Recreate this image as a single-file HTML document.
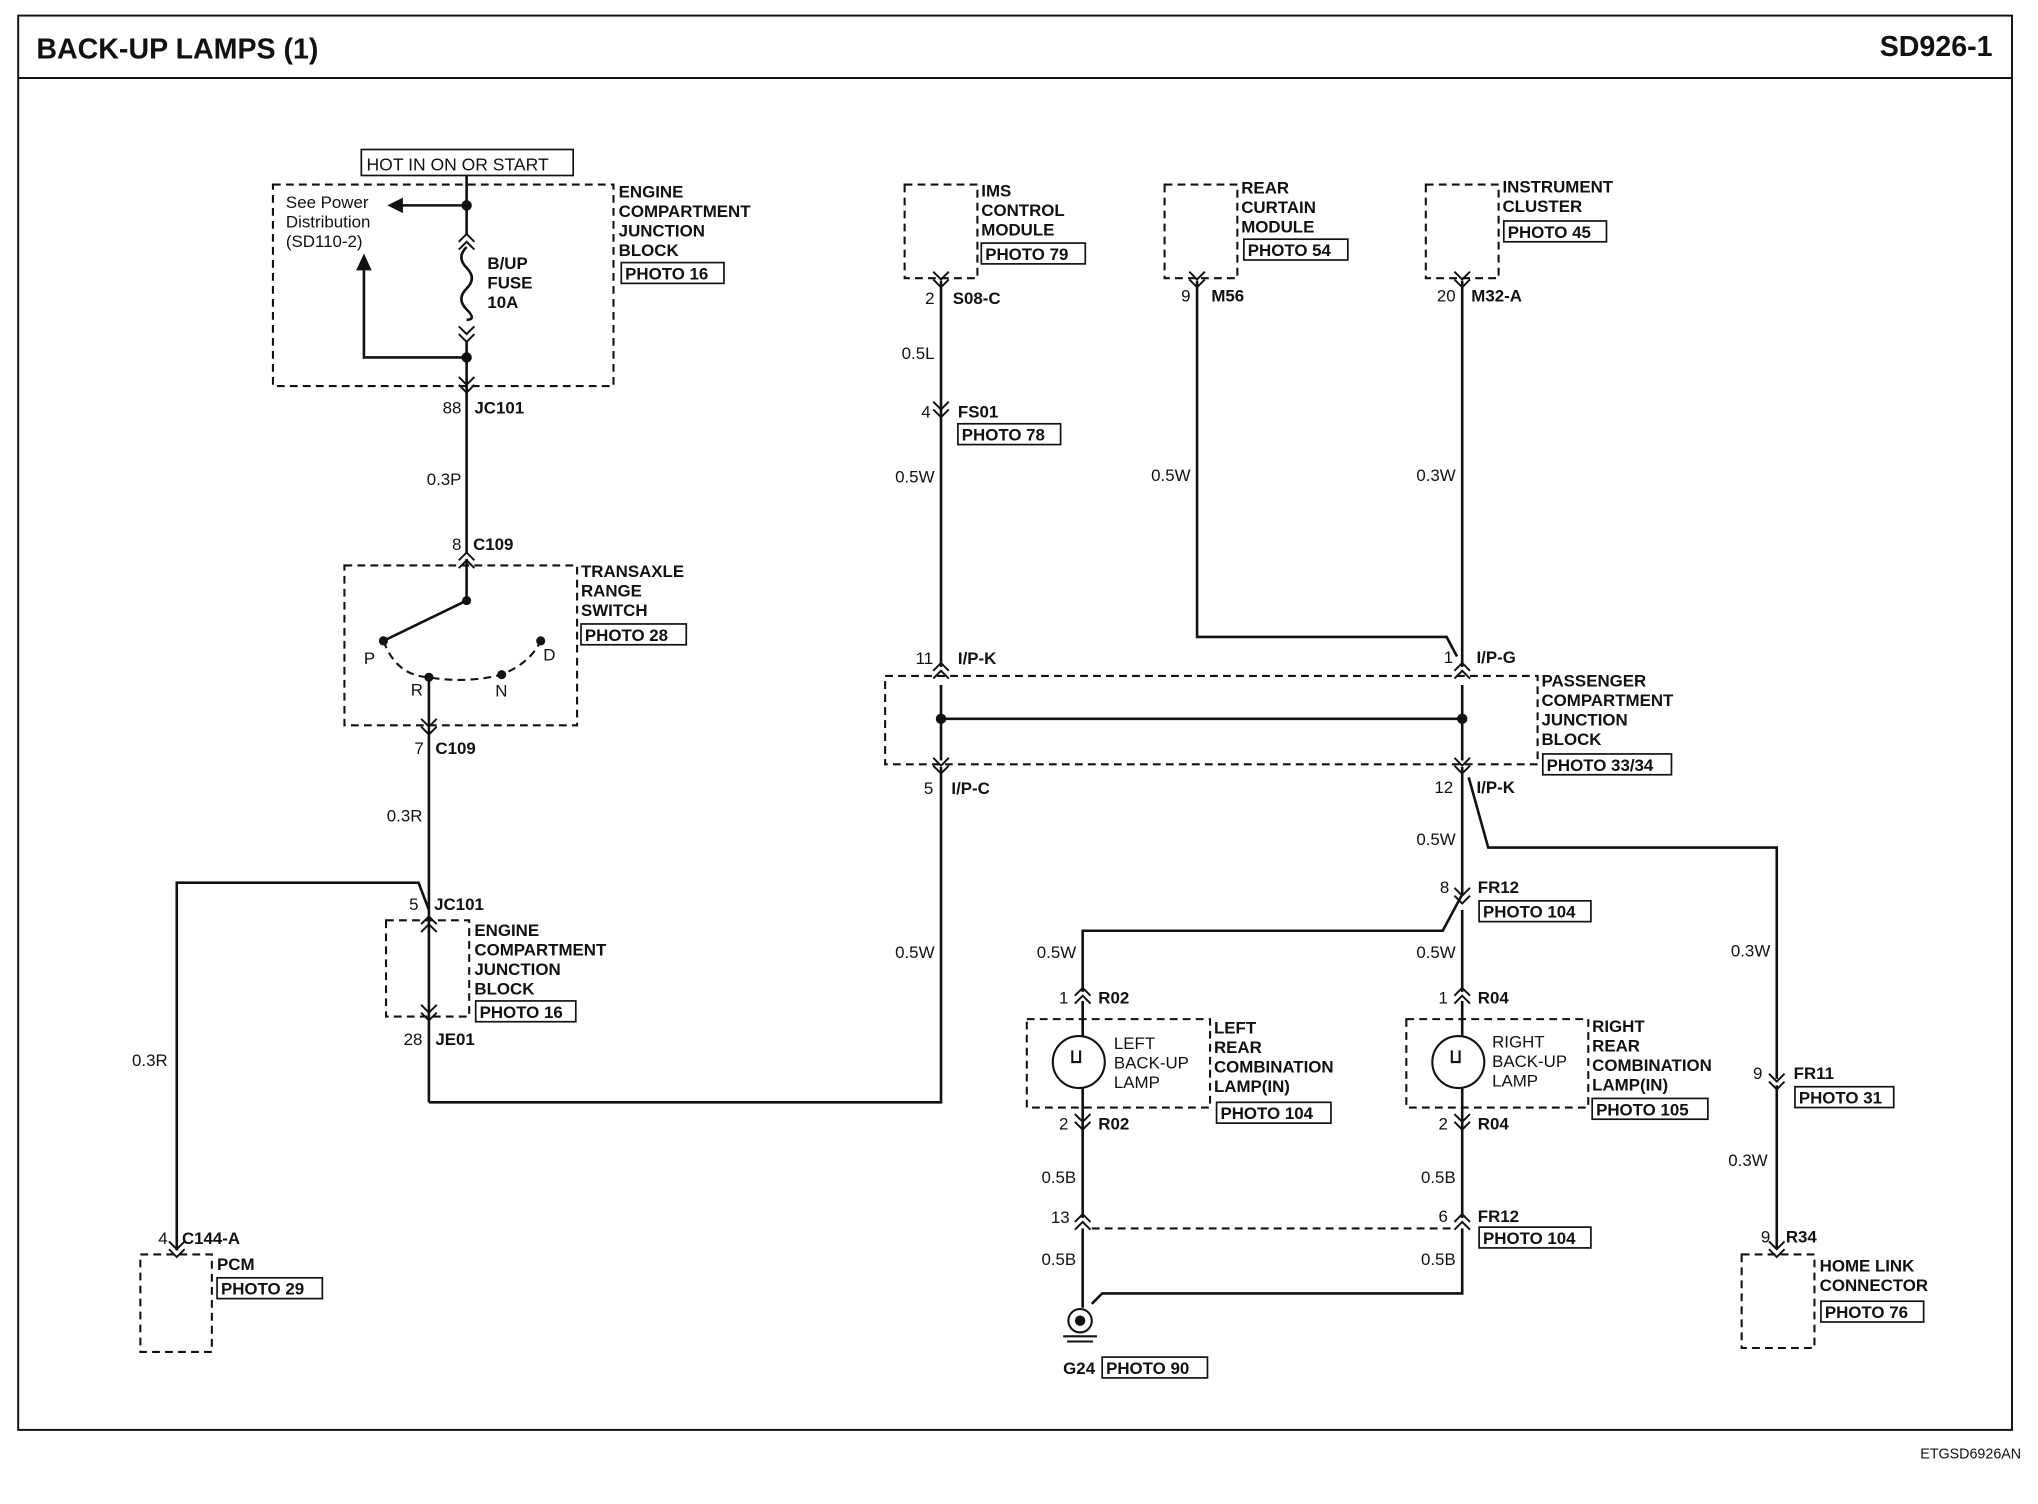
<!DOCTYPE html>
<html><head><meta charset="utf-8"><style>
html,body{margin:0;padding:0;background:#fff;}
svg{display:block;}
text{font-family:"Liberation Sans",Arial,sans-serif;font-size:13px;fill:#111;}
.b{font-weight:bold;}
.t{font-size:13.5px;}
</style></head><body>
<svg width="2038" height="1504" viewBox="0 0 1568 1157" preserveAspectRatio="none" xmlns="http://www.w3.org/2000/svg">
<defs>
<path id="cd" d="M-6,-7 L0,-1 L6,-7 M-6,-1 L0,5 L6,-1" fill="none" stroke="#111" stroke-width="1.5"/>
<path id="cu" d="M-6,7 L0,1 L6,7 M-6,1 L0,-5 L6,1" fill="none" stroke="#111" stroke-width="1.5"/>
</defs>
<rect width="1568" height="1157" fill="#fff"/>
<rect x="14" y="12" width="1534" height="1088" fill="none" stroke="#111" stroke-width="1.5"/>
<line x1="14" y1="60" x2="1548" y2="60" stroke="#111" stroke-width="1.5"/>
<text x="28" y="45" class="b" style="font-size:22px">BACK-UP LAMPS (1)</text>
<text x="1533" y="43" class="b" style="font-size:22px" text-anchor="end">SD926-1</text>
<text x="1555" y="1122" style="font-size:11px" text-anchor="end">ETGSD6926AN</text>

<g fill="none" stroke="#111" stroke-width="2">
<line x1="359" y1="135" x2="359" y2="180"/>
<path d="M359,190 q-8,8 0,16 q8,8 0,16 q-8,8 0,16 q8,8 0,8"/>
<line x1="359" y1="262" x2="359" y2="425"/>
<line x1="359" y1="158" x2="305" y2="158"/>
<path d="M359,275 H280 V205"/>
<line x1="359" y1="430" x2="359" y2="462"/>
<line x1="359" y1="462" x2="295" y2="493"/>
<line x1="330" y1="521" x2="330" y2="560"/>
<line x1="330" y1="560" x2="330" y2="848"/>
<path d="M330,848 H724 V590"/>
<path d="M136,962 V679 H322 L330,700"/>
<line x1="724" y1="216" x2="724" y2="513"/>
<line x1="724" y1="527" x2="724" y2="585"/>
<line x1="724" y1="553" x2="1125" y2="553"/>
<path d="M921,216 V490 H1113 L1121,505"/>
<line x1="1125" y1="216" x2="1125" y2="513"/>
<line x1="1125" y1="527" x2="1125" y2="585"/>
<line x1="1125" y1="590" x2="1125" y2="688"/>
<path d="M1130,598 L1145,652 H1367 V830"/>
<line x1="1367" y1="835" x2="1367" y2="960"/>
<path d="M1125,688 L1110,716 H833 V763"/>
<line x1="1125" y1="700" x2="1125" y2="763"/>
<line x1="833" y1="770" x2="833" y2="797"/>
<line x1="833" y1="837" x2="833" y2="937"/>
<line x1="833" y1="945" x2="833" y2="1006"/>
<line x1="1125" y1="770" x2="1125" y2="797"/>
<line x1="1125" y1="837" x2="1125" y2="937"/>
<path d="M840,1003 L848,995 H1125 V945"/>
</g>
<g fill="none" stroke="#111" stroke-width="1.6" stroke-dasharray="6,4">
<rect x="210" y="142" width="262" height="155"/>
<rect x="265" y="435" width="179" height="123"/>
<rect x="297" y="708" width="64" height="74"/>
<rect x="108" y="965" width="55" height="75"/>
<rect x="696" y="142" width="56" height="72"/>
<rect x="896" y="142" width="56" height="72"/>
<rect x="1097" y="142" width="56" height="72"/>
<rect x="681" y="520" width="502" height="68"/>
<rect x="790" y="784" width="141" height="68"/>
<rect x="1082" y="784" width="140" height="68"/>
<rect x="1340" y="965" width="56" height="72"/>
<path d="M295,493 Q305,520 330,521 Q358,526 386,519 Q408,510 416,493"/>
<line x1="840" y1="945" x2="1120" y2="945"/>
</g>
<g fill="#111">
<circle cx="359" cy="158" r="4"/><circle cx="359" cy="275" r="4"/>
<circle cx="359" cy="462" r="3.5"/><circle cx="295" cy="493" r="3.5"/><circle cx="330" cy="521" r="3.5"/><circle cx="386" cy="519" r="3.5"/><circle cx="416" cy="493" r="3.5"/>
<circle cx="724" cy="553" r="4"/><circle cx="1125" cy="553" r="4"/>
<path d="M298,158 L310,152 L310,164Z"/>
<path d="M280,195 L274,208 L286,208Z"/>
</g>
<use href="#cu" x="359" y="185"/><use href="#cd" x="359" y="258"/>
<use href="#cd" x="359" y="297"/><use href="#cu" x="359" y="430"/>
<use href="#cd" x="330" y="560"/><use href="#cu" x="330" y="710"/><use href="#cd" x="330" y="780"/>
<use href="#cd" x="136" y="962"/>
<use href="#cd" x="724" y="216"/><use href="#cd" x="724" y="316"/>
<use href="#cu" x="724" y="515"/><use href="#cd" x="724" y="590"/>
<use href="#cd" x="921" y="216"/><use href="#cd" x="1125" y="216"/>
<use href="#cu" x="1125" y="515"/><use href="#cd" x="1125" y="590"/>
<use href="#cd" x="1125" y="690"/>
<use href="#cu" x="833" y="765"/><use href="#cd" x="833" y="864"/><use href="#cu" x="833" y="939"/>
<use href="#cu" x="1125" y="765"/><use href="#cd" x="1125" y="864"/><use href="#cu" x="1125" y="939"/>
<use href="#cd" x="1367" y="833"/><use href="#cd" x="1367" y="962"/>
<g fill="none" stroke="#111" stroke-width="1.6">
<circle cx="830" cy="817" r="20"/><path d="M825,808 v9 h6 v-9"/>
<circle cx="1122" cy="817" r="20"/><path d="M1117,808 v9 h6 v-9"/>
<circle cx="831" cy="1016" r="9"/>
<line x1="818" y1="1028" x2="844" y2="1028"/><line x1="821" y1="1032" x2="841" y2="1032"/>
</g>
<circle cx="831" cy="1016" r="4" fill="#111"/>
<g fill="none" stroke="#111" stroke-width="1.3">
<rect x="278" y="115" width="163" height="20"/>
<rect x="478" y="202" width="79" height="16"/>
<rect x="447" y="480" width="81" height="16"/>
<rect x="366" y="770" width="77" height="16"/>
<rect x="167" y="983" width="81" height="16"/>
<rect x="755" y="187" width="80" height="16"/>
<rect x="737" y="326" width="79" height="16"/>
<rect x="957" y="184" width="80" height="16"/>
<rect x="1157" y="170" width="79" height="16"/>
<rect x="1187" y="580" width="99" height="16"/>
<rect x="1138" y="693" width="86" height="16"/>
<rect x="936" y="848" width="88" height="16"/>
<rect x="1225" y="845" width="89" height="16"/>
<rect x="1138" y="944" width="86" height="16"/>
<rect x="848" y="1044" width="81" height="16"/>
<rect x="1381" y="836" width="76" height="16"/>
<rect x="1401" y="1001" width="79" height="16"/>
</g>
<text x="282" y="131" class="t">HOT IN ON OR START</text>
<text x="220" y="160">See Power</text><text x="220" y="175">Distribution</text><text x="220" y="190">(SD110-2)</text>
<g>
<text x="375" y="207" class="b">B/UP</text><text x="375" y="222" class="b">FUSE</text><text x="375" y="237" class="b">10A</text>
<text x="476" y="152" class="b">ENGINE</text><text x="476" y="167" class="b">COMPARTMENT</text><text x="476" y="182" class="b">JUNCTION</text><text x="476" y="197" class="b">BLOCK</text>
<text x="481" y="215" class="b">PHOTO 16</text>
<text x="355" y="318" text-anchor="end">88</text><text x="365" y="318" class="b">JC101</text>
<text x="355" y="373" text-anchor="end">0.3P</text>
<text x="355" y="423" text-anchor="end">8</text><text x="364" y="423" class="b">C109</text>
<text x="447" y="444" class="b">TRANSAXLE</text><text x="447" y="459" class="b">RANGE</text><text x="447" y="474" class="b">SWITCH</text>
<text x="450" y="493" class="b">PHOTO 28</text>
<text x="280" y="511">P</text><text x="316" y="535">R</text><text x="381" y="536">N</text><text x="418" y="508">D</text>
<text x="326" y="580" text-anchor="end">7</text><text x="335" y="580" class="b">C109</text>
<text x="325" y="632" text-anchor="end">0.3R</text>
<text x="322" y="700" text-anchor="end">5</text><text x="334" y="700" class="b">JC101</text>
<text x="365" y="720" class="b">ENGINE</text><text x="365" y="735" class="b">COMPARTMENT</text><text x="365" y="750" class="b">JUNCTION</text><text x="365" y="765" class="b">BLOCK</text>
<text x="369" y="783" class="b">PHOTO 16</text>
<text x="325" y="804" text-anchor="end">28</text><text x="335" y="804" class="b">JE01</text>
<text x="129" y="820" text-anchor="end">0.3R</text>
<text x="129" y="957" text-anchor="end">4</text><text x="140" y="957" class="b">C144-A</text>
<text x="167" y="977" class="b">PCM</text><text x="170" y="996" class="b">PHOTO 29</text>

<text x="755" y="151" class="b">IMS</text><text x="755" y="166" class="b">CONTROL</text><text x="755" y="181" class="b">MODULE</text>
<text x="758" y="200" class="b">PHOTO 79</text>
<text x="719" y="234" text-anchor="end">2</text><text x="733" y="234" class="b">S08-C</text>
<text x="719" y="276" text-anchor="end">0.5L</text>
<text x="716" y="321" text-anchor="end">4</text><text x="737" y="321" class="b">FS01</text>
<text x="740" y="339" class="b">PHOTO 78</text>
<text x="719" y="371" text-anchor="end">0.5W</text>
<text x="718" y="511" text-anchor="end">11</text><text x="737" y="511" class="b">I/P-K</text>
<text x="718" y="611" text-anchor="end">5</text><text x="732" y="611" class="b">I/P-C</text>
<text x="719" y="737" text-anchor="end">0.5W</text>

<text x="955" y="149" class="b">REAR</text><text x="955" y="164" class="b">CURTAIN</text><text x="955" y="179" class="b">MODULE</text>
<text x="960" y="197" class="b">PHOTO 54</text>
<text x="916" y="232" text-anchor="end">9</text><text x="932" y="232" class="b">M56</text>
<text x="916" y="370" text-anchor="end">0.5W</text>

<text x="1156" y="148" class="b">INSTRUMENT</text><text x="1156" y="163" class="b">CLUSTER</text>
<text x="1160" y="183" class="b">PHOTO 45</text>
<text x="1120" y="232" text-anchor="end">20</text><text x="1132" y="232" class="b">M32-A</text>
<text x="1120" y="370" text-anchor="end">0.3W</text>
<text x="1118" y="510" text-anchor="end">1</text><text x="1136" y="510" class="b">I/P-G</text>
<text x="1186" y="528" class="b">PASSENGER</text><text x="1186" y="543" class="b">COMPARTMENT</text><text x="1186" y="558" class="b">JUNCTION</text><text x="1186" y="573" class="b">BLOCK</text>
<text x="1190" y="593" class="b">PHOTO 33/34</text>
<text x="1118" y="610" text-anchor="end">12</text><text x="1136" y="610" class="b">I/P-K</text>
<text x="1120" y="650" text-anchor="end">0.5W</text>
<text x="1115" y="687" text-anchor="end">8</text><text x="1137" y="687" class="b">FR12</text>
<text x="1141" y="706" class="b">PHOTO 104</text>
<text x="828" y="737" text-anchor="end">0.5W</text>
<text x="1120" y="737" text-anchor="end">0.5W</text>
<text x="1362" y="736" text-anchor="end">0.3W</text>
<text x="822" y="772" text-anchor="end">1</text><text x="845" y="772" class="b">R02</text>
<text x="1114" y="772" text-anchor="end">1</text><text x="1137" y="772" class="b">R04</text>
<text x="857" y="807">LEFT</text><text x="857" y="822">BACK-UP</text><text x="857" y="837">LAMP</text>
<text x="934" y="795" class="b">LEFT</text><text x="934" y="810" class="b">REAR</text><text x="934" y="825" class="b">COMBINATION</text><text x="934" y="840" class="b">LAMP(IN)</text>
<text x="939" y="861" class="b">PHOTO 104</text>
<text x="1148" y="806">RIGHT</text><text x="1148" y="821">BACK-UP</text><text x="1148" y="836">LAMP</text>
<text x="1225" y="794" class="b">RIGHT</text><text x="1225" y="809" class="b">REAR</text><text x="1225" y="824" class="b">COMBINATION</text><text x="1225" y="839" class="b">LAMP(IN)</text>
<text x="1228" y="858" class="b">PHOTO 105</text>
<text x="822" y="869" text-anchor="end">2</text><text x="845" y="869" class="b">R02</text>
<text x="1114" y="869" text-anchor="end">2</text><text x="1137" y="869" class="b">R04</text>
<text x="828" y="910" text-anchor="end">0.5B</text><text x="1120" y="910" text-anchor="end">0.5B</text>
<text x="823" y="941" text-anchor="end">13</text>
<text x="1114" y="940" text-anchor="end">6</text><text x="1137" y="940" class="b">FR12</text>
<text x="1141" y="957" class="b">PHOTO 104</text>
<text x="828" y="973" text-anchor="end">0.5B</text><text x="1120" y="973" text-anchor="end">0.5B</text>
<text x="818" y="1057" class="b">G24</text><text x="851" y="1057" class="b">PHOTO 90</text>
<text x="1356" y="830" text-anchor="end">9</text><text x="1380" y="830" class="b">FR11</text>
<text x="1384" y="849" class="b">PHOTO 31</text>
<text x="1360" y="897" text-anchor="end">0.3W</text>
<text x="1362" y="956" text-anchor="end">9</text><text x="1374" y="956" class="b">R34</text>
<text x="1400" y="978" class="b">HOME LINK</text><text x="1400" y="993" class="b">CONNECTOR</text>
<text x="1404" y="1014" class="b">PHOTO 76</text>
</g>
</svg>
</body></html>
